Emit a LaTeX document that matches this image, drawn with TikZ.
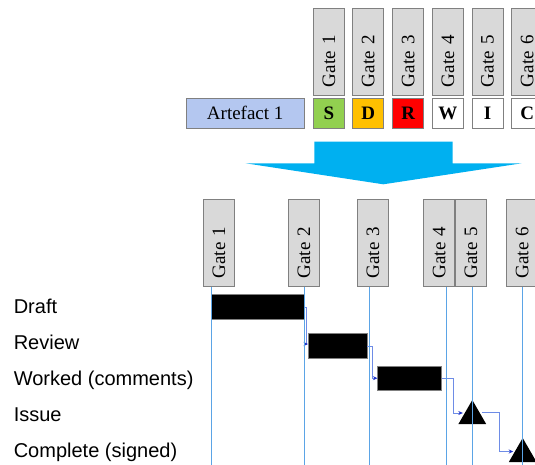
\documentclass[tikz,border=0pt]{standalone}
\usepackage{fontspec}
\setmainfont{Liberation Serif}
\setsansfont{Liberation Sans}
\usetikzlibrary{arrows.meta,shapes.geometric}

\definecolor{gatefill}{RGB}{217,217,217}
\definecolor{boxline}{RGB}{128,128,128}
\definecolor{artfill}{RGB}{180,199,240}
\definecolor{stgS}{RGB}{146,208,80}
\definecolor{stgD}{RGB}{255,192,0}
\definecolor{stgR}{RGB}{255,0,0}
\definecolor{flowblue}{RGB}{0,176,240}
\definecolor{guideblue}{RGB}{91,164,230}
\definecolor{linkline}{RGB}{110,140,230}
\definecolor{linktip}{RGB}{30,50,200}

\tikzset{
  gate/.style={draw=boxline, fill=gatefill, line width=0.8pt, rotate=90,
    minimum height=31pt, inner xsep=8pt, inner ysep=0pt,
    text width=71pt, align=left, font=\fontsize{19}{19}\selectfont},
  stage/.style={draw=boxline, line width=0.8pt, minimum width=31pt,
    minimum height=30pt, inner sep=0pt, font=\fontsize{19}{19}\selectfont\bfseries},
  bar/.style={draw=boxline, fill=black, line width=0.5pt, inner sep=0pt},
  milestone/.style={regular polygon, regular polygon sides=3, fill=black,
    minimum size=32pt, inner sep=0pt},
  rowlabel/.style={anchor=base west, inner sep=0pt,
    font=\sffamily\fontsize{20}{20}\selectfont},
  guide/.style={draw=guideblue, line width=0.8pt},
  link/.style={draw=linkline, line width=1pt,
    -{Stealth[length=4.5pt,width=4pt,color=linktip]}},
}

\begin{document}
\begin{tikzpicture}[x=1pt,y=-1pt]
\useasboundingbox (0,0) rectangle (535,464);

% artefact row with its six gates
\foreach \i/\x in {1/328.8,2/368.2,3/408.2,4/447.8,5/487.5,6/527.2}
  \node[gate, minimum width=87pt] (t\i) at (\x,51.5) {Gate \i};
\node[stage, fill=artfill, minimum width=118.3pt,
      font=\fontsize{19}{19}\selectfont] (art) at (245.2,113.3) {Artefact 1};
\node[stage, fill=stgS] (s1) at (328.8,113.3) {S};
\node[stage, fill=stgD] (s2) at (368.2,113.3) {D};
\node[stage, fill=stgR] (s3) at (408.2,113.3) {R};
\node[stage, fill=white] (s4) at (447.8,113.3) {W};
\node[stage, fill=white] (s5) at (487.5,113.3) {I};
\node[stage, fill=white] (s6) at (527.2,113.3) {C};

% big downward arrow
\fill[flowblue] (314.3,141.7) -- (452.7,141.7) -- (452.7,163.3) -- (521.7,163.3)
  -- (383.3,184.3) -- (245.7,163.3) -- (314.3,163.3) -- cycle;

% timeline gates
\foreach \i/\x in {1/218.8,2/303.8,3/372.8,4/439.2,5/470.8,6/522.2}
  \node[gate, minimum width=86.7pt] (b\i) at (\x,242.7) {Gate \i};

% row labels
\node[rowlabel] (lDraft) at (13.6,313.3) {Draft};
\node[rowlabel] (lReview) at (13.6,349.3) {Review};
\node[rowlabel] (lWorked) at (13.6,385.3) {Worked (comments)};
\node[rowlabel] (lIssue) at (13.6,421.3) {Issue};
\node[rowlabel] (lComplete) at (13.6,457.3) {Complete (signed)};

% activities and milestones
\node[bar, minimum width=92.8pt, minimum height=25.2pt] (draft) at (257.4,307) {};
\node[bar, minimum width=58.7pt, minimum height=25.4pt] (review) at (337.65,346) {};
\node[bar, minimum width=64pt, minimum height=24.3pt] (worked) at (409.7,378.2) {};
\node[milestone] (iss) at (472.3,416) {};
\node[milestone] (cmp) at (522.7,454) {};

% dependencies
\draw[link] (draft.east) -- ++(2.5,0) |- ([yshift=2pt]review.west);
\draw[link] (review.east) -- ++(5.7,0) |- (worked.west);
\draw[link] (worked.east) -- ++(11.6,0) |- ([yshift=3pt]iss.west);
\draw[link] ([yshift=3.5pt]iss.east) -- ++(18,0) |- ([yshift=2.5pt]cmp.west);

% gate guide lines
\foreach \i/\d in {1/-7.1,2/0.5,3/-3.5,4/7.1,5/1.5,6/0.5}
  \draw[guide] ([xshift=\d pt]b\i.west) -- ++(0,180);
\end{tikzpicture}
\end{document}
